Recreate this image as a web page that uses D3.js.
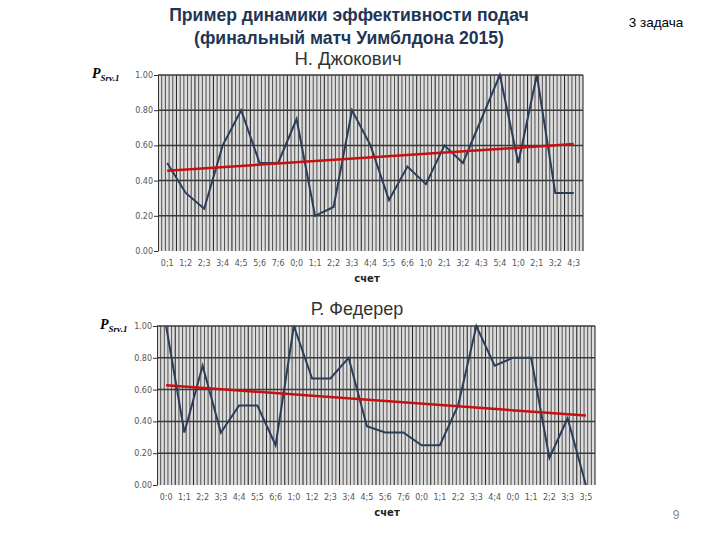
<!DOCTYPE html>
<html>
<head>
<meta charset="utf-8">
<script src="https://cdn.jsdelivr.net/npm/d3@7"></script>
<style>
  body { margin: 0; background: #fff; }
  svg { display: block; }
</style>
</head>
<body>
<script>
// score labels under each point
var djokovicScores = ["0;1","1;2","2;3","3;4","4;5","5;6","7;6","0;0","1;1","2;2","3;3","4;4",
                      "5;5","6;6","1;0","2;1","3;2","4;3","5;4","1;0","2;1","3;2","4;3"];
var djokovicValues = [0.50,0.33,0.24,0.60,0.80,0.50,0.50,0.75,0.20,0.25,0.80,0.60,
                      0.29,0.48,0.38,0.60,0.50,0.75,1.00,0.50,1.00,0.33,0.33];

var federerScores = ["0:0","1;1","2;2","3;3","4;4","5;5","6;6","1;0","1;2","2;3","3;4","4;5",
                     "5;6","7;6","0;0","1;1","2;2","3;3","4;4","0;0","1;1","2;2","3;3","3;5"];
var federerValues = [1.00,0.33,0.75,0.33,0.50,0.50,0.25,1.00,0.67,0.67,0.80,0.37,
                     0.33,0.33,0.25,0.25,0.50,1.00,0.75,0.80,0.80,0.17,0.42,0.00];

var yTicks = [0, 0.2, 0.4, 0.6, 0.8, 1.0];

var width = 720,
    height = 540;

var svg = d3.select("body").append("svg")
  .attr("width", width)
  .attr("height", height);

// least squares line over point index
function trend(values) {
  var n = values.length,
      mx = (n - 1) / 2,
      my = d3.mean(values),
      num = d3.sum(values, function(v, i) { return (i - mx) * (v - my); }),
      den = d3.sum(values, function(v, i) { return (i - mx) * (i - mx); }),
      b = num / den;
  return [[0, my - b * mx], [n - 1, my + b * (n - 1 - mx)]];
}

function drawPanel(cfg) {
  var n = cfg.values.length,
      sub = 5;

  var x = d3.scaleBand()
    .domain(d3.range(n))
    .range([cfg.left, cfg.right]);
  var cx = function(i) { return x(i) + x.bandwidth() / 2; };

  var y = d3.scaleLinear()
    .domain([0, 1])
    .range([cfg.bottom, cfg.top]);

  var gridX = d3.scaleLinear()
    .domain([0, n * sub])
    .range([cfg.left, cfg.right]);

  var g = svg.append("g");

  g.append("rect")
    .attr("x", cfg.left)
    .attr("y", cfg.top)
    .attr("width", cfg.right - cfg.left)
    .attr("height", cfg.bottom - cfg.top)
    .attr("fill", "#dddddd");

  g.selectAll(".vgrid")
    .data(d3.range(1, n * sub + 1))
    .enter().append("line")
      .attr("class", "vgrid")
      .attr("x1", function(d) { return gridX(d); })
      .attr("x2", function(d) { return gridX(d); })
      .attr("y1", cfg.top)
      .attr("y2", cfg.bottom)
      .attr("stroke", "#2b2b2b")
      .attr("stroke-width", function(d) { return d % sub === 0 ? 1.1 : 0.8; });

  g.selectAll(".hgrid")
    .data(yTicks.filter(function(d) { return d > 0; }))
    .enter().append("line")
      .attr("class", "hgrid")
      .attr("x1", cfg.left)
      .attr("x2", cfg.right)
      .attr("y1", function(d) { return y(d); })
      .attr("y2", function(d) { return y(d); })
      .attr("stroke", "#3a3a3a")
      .attr("stroke-width", 1.5);

  var yAxis = g.append("g")
    .attr("transform", "translate(" + cfg.left + ",0)")
    .call(d3.axisLeft(y).tickValues(yTicks).tickFormat(d3.format(".2f")).tickSize(4).tickSizeOuter(0).tickPadding(1));
  yAxis.select(".domain").attr("stroke", "#333");
  yAxis.selectAll(".tick line").attr("stroke", "#333");
  yAxis.selectAll(".tick text")
    .attr("fill", "#555")
    .style("font", "8px 'DejaVu Sans'");

  g.selectAll(".xlab")
    .data(cfg.scores)
    .enter().append("text")
      .attr("class", "xlab")
      .attr("x", function(d, i) { return cx(i); })
      .attr("y", cfg.bottom + 15)
      .attr("text-anchor", "middle")
      .attr("fill", "#555")
      .style("font", "8px 'DejaVu Sans'")
      .text(function(d) { return d; });

  g.append("text")
    .attr("x", cfg.xTitleX)
    .attr("y", cfg.bottom + 31)
    .attr("text-anchor", "middle")
    .attr("fill", "#222")
    .style("font", "bold 10px 'DejaVu Sans'")
    .text("счет");

  var line = d3.line()
    .x(function(d, i) { return cx(i); })
    .y(function(d) { return y(d); });

  g.append("path")
    .datum(cfg.values)
    .attr("d", line)
    .attr("fill", "none")
    .attr("stroke", "#2c3d5a")
    .attr("stroke-width", 2);

  var t = trend(cfg.values);
  g.append("line")
    .attr("x1", cx(t[0][0]))
    .attr("y1", y(t[0][1]))
    .attr("x2", cx(t[1][0]))
    .attr("y2", y(t[1][1]))
    .attr("stroke", "#c81010")
    .attr("stroke-width", 2.5);

  // P with subscript
  var lab = g.append("text")
    .attr("x", cfg.labX)
    .attr("y", cfg.top + 3)
    .attr("fill", "#000")
    .style("font-family", "'Liberation Serif'")
    .style("font-weight", "bold")
    .style("font-style", "italic");
  lab.append("tspan").style("font-size", "14px").text("P");
  lab.append("tspan").style("font-size", "9px").attr("dy", 3).text("Srv.1");
}

drawPanel({
  scores: djokovicScores, values: djokovicValues,
  left: 158, right: 583, top: 75, bottom: 251,
  xTitleX: 367, labX: 92
});

drawPanel({
  scores: federerScores, values: federerValues,
  left: 157, right: 595, top: 326, bottom: 485,
  xTitleX: 387, labX: 100
});

// titles
var titles = svg.append("g")
  .attr("text-anchor", "middle");
titles.append("text")
  .attr("x", 349).attr("y", 21)
  .attr("fill", "#1f3556")
  .style("font", "bold 17.6px 'Liberation Sans'")
  .text("Пример динамики эффективности подач");
titles.append("text")
  .attr("x", 349).attr("y", 44)
  .attr("fill", "#1f3556")
  .style("font", "bold 17.6px 'Liberation Sans'")
  .text("(финальный матч Уимблдона 2015)");
titles.append("text")
  .attr("x", 348).attr("y", 65)
  .attr("fill", "#333")
  .style("font", "18.5px 'Liberation Sans'")
  .text("Н. Джокович");
titles.append("text")
  .attr("x", 357).attr("y", 315)
  .attr("fill", "#333")
  .style("font", "18px 'Liberation Sans'")
  .text("Р. Федерер");

svg.append("text")
  .attr("x", 656).attr("y", 27)
  .attr("text-anchor", "middle")
  .attr("fill", "#000")
  .style("font", "13.5px 'Liberation Sans'")
  .text("3 задача");

svg.append("text")
  .attr("x", 676).attr("y", 519)
  .attr("text-anchor", "middle")
  .attr("fill", "#888")
  .style("font", "12px 'Liberation Sans'")
  .text("9");
</script>
</body>
</html>
